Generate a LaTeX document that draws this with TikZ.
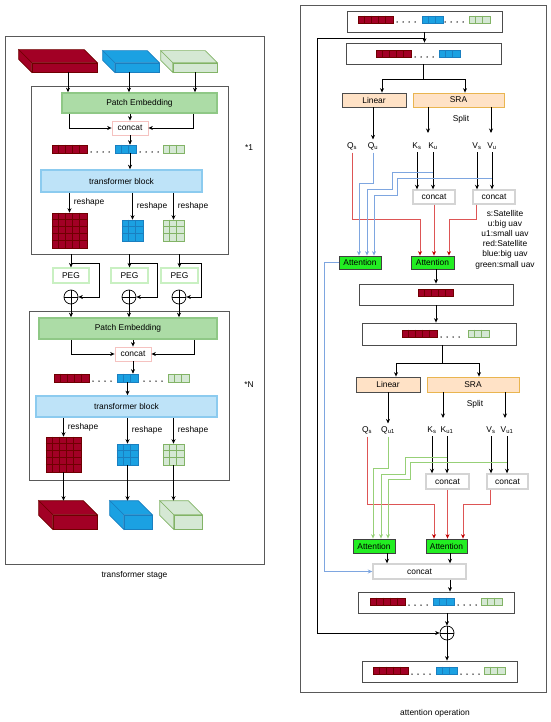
\documentclass[tikz,border=0pt]{standalone}
\usepackage{fontspec}
\setmainfont{Liberation Sans}
\usepackage{xcolor}
\usetikzlibrary{arrows.meta, positioning}

\definecolor{dred}{HTML}{A20025}
\definecolor{dredl}{HTML}{6F0000}
\definecolor{sblue}{HTML}{1BA1E2}
\definecolor{sbluel}{HTML}{1A7FC0}
\definecolor{sgreen}{HTML}{D5E8D4}
\definecolor{sgreenl}{HTML}{82B366}
\definecolor{pefill}{HTML}{ACDCA6}
\definecolor{peline}{HTML}{8FC886}
\definecolor{tbfill}{HTML}{BEE3F8}
\definecolor{tbline}{HTML}{8CCBEF}
\definecolor{catpink}{HTML}{F5C2C0}
\definecolor{catgray}{HTML}{D4D4D4}
\definecolor{peggreen}{HTML}{C9F0C2}
\definecolor{peach}{HTML}{FFE2C6}
\definecolor{sraline}{HTML}{E9B550}
\definecolor{attgreen}{HTML}{22EE22}
\definecolor{redline}{HTML}{DD5555}
\definecolor{redtip}{HTML}{C00000}
\definecolor{blueline}{HTML}{7EA6E0}
\definecolor{greenline}{HTML}{97D077}

% row of cells: name, centre, cols, rows, cell w, cell h, fill, line
\newcommand{\cells}[8]{%
  \node[draw=#8, fill=#7, line width=0.6pt, minimum width={#3*#5pt}, minimum height={#4*#6pt}] (#1) at #2 {};
  \foreach \k in {2,...,#3}
    \draw[draw=#8, line width=0.5pt] ([xshift={(\k-1)*#5pt}]#1.north west) -- ([xshift={(\k-1)*#5pt}]#1.south west);
  \ifnum#4>1
    \foreach \k in {2,...,#4}
      \draw[draw=#8, line width=0.5pt] ([yshift={-(\k-1)*#6pt}]#1.north west) -- ([yshift={-(\k-1)*#6pt}]#1.north east);
  \fi
}
% 3d slab: name, front centre, width, height, depth, colour
\newcommand{\slab}[6]{%
  \node[draw=#6l, fill=#6, line width=0.6pt, minimum width=#3pt, minimum height=#4pt] (#1) at #2 {};
  \filldraw[draw=#6l, fill=#6, line width=0.6pt] (#1.north west) -- (#1.north east) -- ([shift={(-#5,-#5)}]#1.north east) -- ([shift={(-#5,-#5)}]#1.north west) -- cycle;
  \filldraw[draw=#6l, fill=#6, line width=0.6pt] (#1.north west) -- (#1.south west) -- ([shift={(-#5,-#5)}]#1.south west) -- ([shift={(-#5,-#5)}]#1.north west) -- cycle;
  \coordinate (#1t) at ([shift={(-#5,-#5)}]#1.north);
}
\newcommand{\fourdots}[2]{\foreach \k in {0,...,3} \fill ({#1+6*\k},#2) circle (0.75pt);}

\begin{document}
\begin{tikzpicture}[x=1pt, y=-1pt, line width=0.7pt, >={Stealth[length=4.5pt,width=4pt]},
  every node/.style={font=\fontsize{8.4}{10.2}\selectfont, inner sep=0pt},
  framebox/.style={draw=black!65, line width=0.8pt},
  tokbox/.style={draw=black!70, fill=white, line width=0.8pt},
  pebox/.style={draw=peline, fill=pefill, line width=1.6pt},
  tbbox/.style={draw=tbline, fill=tbfill, line width=1.6pt},
  catl/.style={draw=catpink, fill=white, line width=0.8pt},
  catr/.style={draw=catgray, fill=white, line width=1.4pt},
  pegbox/.style={draw=peggreen, fill=white, line width=1.2pt},
  linbox/.style={draw=black!70, fill=peach, line width=0.8pt},
  srabox/.style={draw=sraline, fill=peach, line width=0.8pt},
  attbox/.style={draw=black!75, fill=attgreen, line width=0.8pt},
  qlbl/.style={inner sep=2.5pt},
  oplus/.style={circle, draw, fill=white, minimum size=14pt, path picture={\draw (path picture bounding box.north) -- (path picture bounding box.south) (path picture bounding box.west) -- (path picture bounding box.east);}},
  redln/.style={draw=redline, -{Stealth[length=4.5pt,width=4pt,color=redtip]}},
  blueln/.style={draw=blueline, line width=0.9pt, ->},
  greenln/.style={draw=greenline, line width=0.9pt, ->}]
\useasboundingbox (0,0) rectangle (550,722);

% transformer stage
\node[framebox, minimum width=259pt, minimum height=528pt] (stage) at (134.5,300) {};
\node[below=7pt of stage] (stagelbl) {transformer stage};

\slab{sl1}{(64.5,67.5)}{65}{9}{13}{dred}
\slab{sl2}{(137,67.5)}{44}{9}{12}{sblue}
\slab{sl3}{(195,67.5)}{44}{9}{12}{sgreen}

\node[framebox, minimum width=197pt, minimum height=168pt] (blk1) at (129.5,170) {};
\node[pebox, minimum width=155pt, minimum height=20pt] (pe1) at (139.5,103) {Patch Embedding};
\node[catl, minimum width=36pt, minimum height=14pt] (cc1) at (130,128) {concat};
\cells{tk11}{(69.5,149)}{5}{1}{7}{8}{dred}{dredl}
\fourdots{91}{152}
\cells{tk12}{(125.5,149)}{3}{1}{7}{8}{sblue}{sbluel}
\fourdots{140}{152}
\cells{tk13}{(173.5,149)}{3}{1}{7}{8}{sgreen}{sgreenl}
\node[tbbox, minimum width=161pt, minimum height=22pt] (tb1) at (121.5,181) {transformer block};
\cells{g11}{(69.5,230.5)}{5}{5}{7}{7}{dred}{dredl}
\cells{g12}{(132.5,230.5)}{3}{3}{7}{7}{sblue}{sbluel}
\cells{g13}{(173.5,230.5)}{3}{3}{7}{7}{sgreen}{sgreenl}
\node (one) at (249,148) {*1};

\coordinate (s1o) at ([xshift=3.5pt]sl1.south);
\coordinate (s2o) at ([xshift=-8pt]sl2.south);
\draw[->] (s1o) -- (s1o |- pe1.north);
\draw[->] (s2o) -- (s2o |- pe1.north);
\draw[->] (sl3.south) -- (sl3.south |- pe1.north);
\draw[->] ([xshift=-70.5pt]pe1.south) |- (cc1.west);
\draw[->] ([xshift=53.5pt]pe1.south) |- (cc1.east);
\draw[->] (cc1.north |- pe1.south) -- (cc1.north);
\draw[->] (cc1.south) -- (cc1.south |- tk12.north);
\draw[->] (cc1.south |- tk12.south) -- (cc1.south |- tb1.north);
\draw[->] (tb1.south -| g11.north) -- (g11.north) node[midway, right=4pt] (rs11) {reshape};
\draw[->] (tb1.south -| g12.north) -- (g12.north) node[midway, right=4pt] (rs12) {reshape};
\draw[->] (tb1.south -| g13.north) -- (g13.north) node[midway, right=4pt] (rs13) {reshape};

% PEG
\node[pegbox, minimum width=36pt, minimum height=15pt] (peg1) at (71,275.5) {PEG};
\node[pegbox, minimum width=37pt, minimum height=15pt] (peg2) at (129.5,275.5) {PEG};
\node[pegbox, minimum width=37pt, minimum height=15pt] (peg3) at (179.5,275.5) {PEG};
\node[oplus] (op1) at (71,297) {};
\node[oplus] (op2) at (129,297) {};
\node[oplus] (op3) at (179,297) {};
\draw[->] (blk1.south -| peg1.north) -- (peg1.north);
\draw[->] (blk1.south -| peg2.north) -- (peg2.north);
\draw[->] (blk1.south -| peg3.north) -- (peg3.north);
\draw[->] (peg1.north |- 0,263) -- ++(28,0) |- (op1.east);
\draw[->] (peg2.north |- 0,263) -- ++(28,0) |- (op2.east);
\draw[->] (peg3.north |- 0,263) -- ++(22,0) |- (op3.east);

\node[framebox, minimum width=200pt, minimum height=169pt] (blk2) at (129,395.5) {};
\node[pebox, minimum width=178pt, minimum height=21pt] (pe2) at (128,328.5) {Patch Embedding};
\node[catl, minimum width=36pt, minimum height=14pt] (cc2) at (133,354) {concat};
\cells{tk21}{(71.5,378)}{5}{1}{7}{8}{dred}{dredl}
\fourdots{93}{381}
\cells{tk22}{(127.5,378)}{3}{1}{7}{8}{sblue}{sbluel}
\fourdots{144}{381}
\cells{tk23}{(178.5,378)}{3}{1}{7}{8}{sgreen}{sgreenl}
\node[tbbox, minimum width=181pt, minimum height=21pt] (tb2) at (126.5,406.5) {transformer block};
\cells{g21}{(63.5,454.5)}{5}{5}{7}{7}{dred}{dredl}
\cells{g22}{(127.5,454.5)}{3}{3}{7}{7}{sblue}{sbluel}
\cells{g23}{(173.5,454.5)}{3}{3}{7}{7}{sgreen}{sgreenl}
\node (enn) at (249,385) {*N};

\draw[->] (op1.south) -- (op1.south |- pe2.north);
\draw[->] (op2.south) -- (op2.south |- pe2.north);
\draw[->] (op3.south) -- (op3.south |- pe2.north);
\draw[->] ([xshift=-57pt]pe2.south) |- (cc2.west);
\draw[->] ([xshift=66pt]pe2.south) |- (cc2.east);
\draw[->] (cc2.north |- pe2.south) -- (cc2.north);
\draw[->] (cc2.south) -- (cc2.south |- tk22.north);
\draw[->] (tk22.south) -- (tk22.south |- tb2.north);
\draw[->] (tb2.south -| g21.north) -- (g21.north) node[midway, right=4pt] (rs21) {reshape};
\draw[->] (tb2.south -| g22.north) -- (g22.north) node[midway, right=4pt] (rs22) {reshape};
\draw[->] (tb2.south -| g23.north) -- (g23.north) node[midway, right=4pt] (rs23) {reshape};

\slab{sb1}{(75,522)}{44}{14}{14}{dred}
\slab{sb2}{(138,522)}{28}{14}{14}{sblue}
\slab{sb3}{(188,522)}{28}{14}{14}{sgreen}
\draw[->] (g21.south) -- (g21.south |- sb1t);
\draw[->] (g22.south) -- (g22.south |- sb2t);
\draw[->] (g23.south) -- (g23.south |- sb3t);

% attention operation
\node[framebox, minimum width=246pt, minimum height=687pt] (attop) at (423,348.5) {};
\node[below=17pt of attop, xshift=12pt] (attlbl) {attention operation};

\node[tokbox, minimum width=155pt, minimum height=21pt] (tp) at (424.5,21.5) {};
\cells{tp1}{(375.5,19.5)}{5}{1}{7}{7}{dred}{dredl}
\fourdots{397}{22}
\cells{tp2}{(432.5,19.5)}{3}{1}{7}{7}{sblue}{sbluel}
\fourdots{445}{22}
\cells{tp3}{(479.5,19.5)}{3}{1}{7}{7}{sgreen}{sgreenl}

\node[tokbox, minimum width=155pt, minimum height=21pt] (bx2) at (423.5,53.5) {};
\cells{bx21}{(393.5,54)}{5}{1}{7}{7}{dred}{dredl}
\fourdots{415}{57}
\cells{bx22}{(449.5,54)}{3}{1}{7}{7}{sblue}{sbluel}

\draw[->] (tp.south) -- (tp.south |- bx2.north);
\coordinate (j0) at (tp.south |- 0,38);

\node[linbox, minimum width=64pt, minimum height=14pt] (lin1) at (374,100) {Linear};
\node[srabox, minimum width=91pt, minimum height=14pt] (sra1) at (458.5,100) {SRA};
\draw[->] (bx2.south) -- ++(0,15) -| ([xshift=8pt]lin1.north);
\draw[->] (bx2.south) ++(0,15) -| ([xshift=6.5pt]sra1.north);
\node (split1) at (461,119) {Split};

\node[qlbl] (qs1) at (352,146) {Q\textsubscript{s}};
\node[qlbl] (qu1) at (373,146) {Q\textsubscript{u}};
\node[qlbl] (ks1) at (417,146) {K\textsubscript{s}};
\node[qlbl] (ku1) at (433,146) {K\textsubscript{u}};
\node[qlbl] (vs1) at (477,146) {V\textsubscript{s}};
\node[qlbl] (vu1) at (492,146) {V\textsubscript{u}};
\coordinate (kin1) at (428,133);
\coordinate (vin1) at (491,133);
\draw[->] (qu1.north |- lin1.south) -- (qu1.north);
\draw[->] (kin1 |- sra1.south) -- (kin1);
\draw[->] (vin1 |- sra1.south) -- (vin1);

\node[catr, minimum width=42pt, minimum height=14pt] (kc1) at (434,197) {concat};
\node[catr, minimum width=42pt, minimum height=14pt] (vc1) at (494,197) {concat};
\draw[->] (ks1.south) -- (ks1.south |- kc1.north);
\draw[->] (ku1.south) -- (ku1.south |- kc1.north);
\draw[->] (vs1.south) -- (vs1.south |- vc1.north);
\draw[->] (vu1.south) -- (vu1.south |- vc1.north);

\node[attbox, minimum width=42pt, minimum height=13pt] (att1) at (360,262.5) {Attention};
\node[attbox, minimum width=43pt, minimum height=13pt] (att2) at (432.5,262.5) {Attention};

\draw[redln] (qs1.south) -- (qs1.south |- 0,219) -| ([xshift=-12.5pt]att2.north);
\draw[redln] (kc1.south) -- (kc1.south |- att2.north);
\draw[redln] ([xshift=-18pt]vc1.south) -- ++(0,15) -| ([xshift=16.5pt]att2.north);
\draw[blueln] (qu1.south) |- (359,183) -- ([xshift=-1pt]att1.north);
\draw[blueln] (ku1.south |- 0,172) -| (392,189) -| ([xshift=7pt]att1.north);
\draw[blueln] (vu1.south |- 0,178) -| (397,195) -| ([xshift=14pt]att1.north);

\node[align=center] (legend) at (505,239.5) {s:Satellite\\u:big uav\\u1:small uav\\red:Satellite\\blue:big uav\\green:small uav};

\node[tokbox, minimum width=154pt, minimum height=21pt] (bx3) at (436,294.5) {};
\cells{bx31}{(435.5,293)}{5}{1}{7}{7}{dred}{dredl}
\node[tokbox, minimum width=154pt, minimum height=22pt] (bx4) at (439,334) {};
\cells{bx41}{(419.5,333.5)}{5}{1}{7}{7}{dred}{dredl}
\fourdots{441}{337}
\cells{bx43}{(478.5,333.5)}{3}{1}{7}{7}{sgreen}{sgreenl}
\draw[->] (bx3.north |- att2.south) -- (bx3.north);
\draw[->] (bx3.south) -- (bx3.south |- bx4.north);

\node[linbox, minimum width=64pt, minimum height=15pt] (lin2) at (388,384.5) {Linear};
\node[srabox, minimum width=92pt, minimum height=15pt] (sra2) at (473,384.5) {SRA};
\draw[->] ([xshift=3pt]bx4.south) -- ++(0,18) -| ([xshift=8pt]lin2.north);
\draw[->] ([xshift=3pt]bx4.south) ++(0,18) -| ([xshift=6pt]sra2.north);
\node (split2) at (475,404) {Split};

\node[qlbl] (qs2) at (367,430) {Q\textsubscript{s}};
\node[qlbl] (qu2) at (388,430) {Q\textsubscript{u1}};
\node[qlbl] (ks2) at (432,430) {K\textsubscript{s}};
\node[qlbl] (ku2) at (447,430) {K\textsubscript{u1}};
\node[qlbl] (vs2) at (491,430) {V\textsubscript{s}};
\node[qlbl] (vu2) at (507,430) {V\textsubscript{u1}};
\coordinate (kin2) at (443,418);
\coordinate (vin2) at (505,418);
\draw[->] (qu2.north |- lin2.south) -- (qu2.north);
\draw[->] (kin2 |- sra2.south) -- (kin2);
\draw[->] (vin2 |- sra2.south) -- (vin2);

\node[catr, minimum width=43pt, minimum height=15pt] (kc2) at (447.5,481.5) {concat};
\node[catr, minimum width=41pt, minimum height=15pt] (vc2) at (507.5,481.5) {concat};
\draw[->] (ks2.south) -- (ks2.south |- kc2.north);
\draw[->] (ku2.south) -- (ku2.south |- kc2.north);
\draw[->] (vs2.south) -- (vs2.south |- vc2.north);
\draw[->] (vu2.south) -- (vu2.south |- vc2.north);

\node[attbox, minimum width=42pt, minimum height=14pt] (att3) at (374,546) {Attention};
\node[attbox, minimum width=41pt, minimum height=14pt] (att4) at (446.5,546) {Attention};

\draw[redln] (qs2.south) -- (qs2.south |- 0,504) -| ([xshift=-12.5pt]att4.north);
\draw[redln] (kc2.south) -- (kc2.south |- att4.north);
\draw[redln] ([xshift=-17.5pt]vc2.south) -- ++(0,15) -| ([xshift=16.5pt]att4.north);
\draw[greenln] (qu2.south) |- (373,468) -- ([xshift=-1pt]att3.north);
\draw[greenln] (ku2.south |- 0,457) -| (405,474) -| ([xshift=7pt]att3.north);
\draw[greenln] (vu2.south |- 0,462) -| (410,479) -| ([xshift=14pt]att3.north);

\node[catr, minimum width=93pt, minimum height=15pt] (ccf) at (419.5,571.5) {concat};
\coordinate (a3) at ([xshift=13pt]att3.south);
\coordinate (a4) at ([xshift=3.5pt]att4.south);
\draw[->] (a3) -- (a3 |- ccf.north);
\draw[->] (a4) -- (a4 |- ccf.north);
\draw[blueln] (att1.west) -- ++(-14,0) |- (ccf.west);

\node[tokbox, minimum width=156pt, minimum height=21pt] (bx5) at (436,602.5) {};
\cells{bx51}{(387.5,601.5)}{5}{1}{7}{7}{dred}{dredl}
\fourdots{409}{605}
\cells{bx52}{(443.5,601.5)}{3}{1}{7}{7}{sblue}{sbluel}
\fourdots{458}{605}
\cells{bx53}{(491.5,601.5)}{3}{1}{7}{7}{sgreen}{sgreenl}
\coordinate (c5) at ([xshift=30.5pt]ccf.south);
\draw[->] (c5) -- (c5 |- bx5.north);

\node[oplus] (opl) at (447,633) {};
\draw[->] (opl.north |- bx5.south) -- (opl.north);
\draw[->] (j0) -- (j0 -| 317,0) |- (opl.west);

\node[tokbox, minimum width=155pt, minimum height=21pt] (bx6) at (439.5,671.5) {};
\cells{bx61}{(390.5,670.5)}{5}{1}{7}{7}{dred}{dredl}
\fourdots{412}{674}
\cells{bx62}{(446.5,670.5)}{3}{1}{7}{7}{sblue}{sbluel}
\fourdots{461}{674}
\cells{bx63}{(494.5,670.5)}{3}{1}{7}{7}{sgreen}{sgreenl}
\draw[->] (opl.south) -- (opl.south |- bx6.north);
\end{tikzpicture}
\end{document}
